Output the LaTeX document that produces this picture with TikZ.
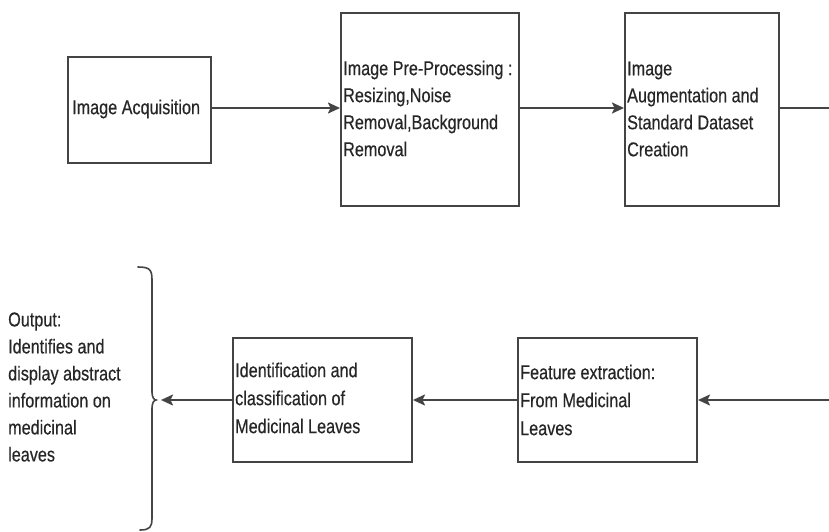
\documentclass[tikz,border=0pt]{standalone}
\usepackage{fontspec}
\setmainfont{Liberation Sans}[FakeStretch=0.81,FakeBold=0.4]
\usetikzlibrary{arrows.meta}
\definecolor{linegray}{HTML}{444444}
\definecolor{textgray}{HTML}{262626}
\begin{document}
\begin{tikzpicture}[x=1pt,y=-1pt,
  box/.style={draw=linegray, line width=2pt, rectangle, inner sep=0pt},
  txt/.style={anchor=west, align=left, inner sep=0pt, text=textgray,
    font=\fontsize{20}{27}\selectfont},
  txtb/.style={txt, font=\fontsize{20}{28}\selectfont},
  flow/.style={draw=linegray, line width=2pt, -{Stealth[length=12pt,width=11pt,inset=2.5pt]}},
  plain/.style={draw=linegray, line width=2pt}]
\useasboundingbox (0,0) rectangle (829,531);
% top row boxes
\node[box, minimum width=143pt, minimum height=106pt] (b1) at (139.5,110) {};
\node[box, minimum width=178pt, minimum height=193pt] (b2) at (430,109.5) {};
\node[box, minimum width=154pt, minimum height=193pt] (b3) at (702,109.5) {};
% bottom row boxes
\node[box, minimum width=179pt, minimum height=124pt] (b4) at (607.5,400) {};
\node[box, minimum width=179pt, minimum height=124pt] (b5) at (322.5,400) {};
% texts
\node[txt] (t1) at (72,109) {Image Acquisition};
\node[txt] (t2) at (343,108.5) {Image Pre-Processing :\\Resizing,Noise\\Removal,Background\\Removal};
\node[txt] (t3) at (627,109) {Image\\Augmentation and\\Standard Dataset\\Creation};
\node[txtb] (t4) at (520,400) {Feature extraction:\\From Medicinal\\Leaves};
\node[txtb] (t5) at (235,398) {Identification and\\classification of\\Medicinal Leaves};
\node[txt] (out) at (8,387) {Output:\\Identifies and\\display abstract\\information on\\medicinal\\leaves};
% brace
\coordinate (br) at (156,400);
\draw[plain, line width=1.6pt, line cap=round]
  (138,267) .. controls (150,267) and (152,270) .. (152,280)
  -- (152,392) .. controls (152,397) and (154,400) .. (br)
  .. controls (154,400) and (152,403) .. (152,408)
  -- (152,518) .. controls (152,527) and (150,530) .. (140,530);
% connectors
\coordinate (topend) at (829,108);
\coordinate (botstart) at (829,400);
\draw[flow] (b1.east |- 0,108) -- (b2.west |- 0,108);
\draw[flow] (b2.east |- 0,108) -- (b3.west |- 0,108);
\draw[plain] (b3.east |- 0,108) -- (topend);
\draw[flow] (botstart) -- (b4.east);
\draw[flow] (b4.west) -- (b5.east);
\draw[flow] (b5.west) -- ([xshift=5pt]br);
\end{tikzpicture}
\end{document}
